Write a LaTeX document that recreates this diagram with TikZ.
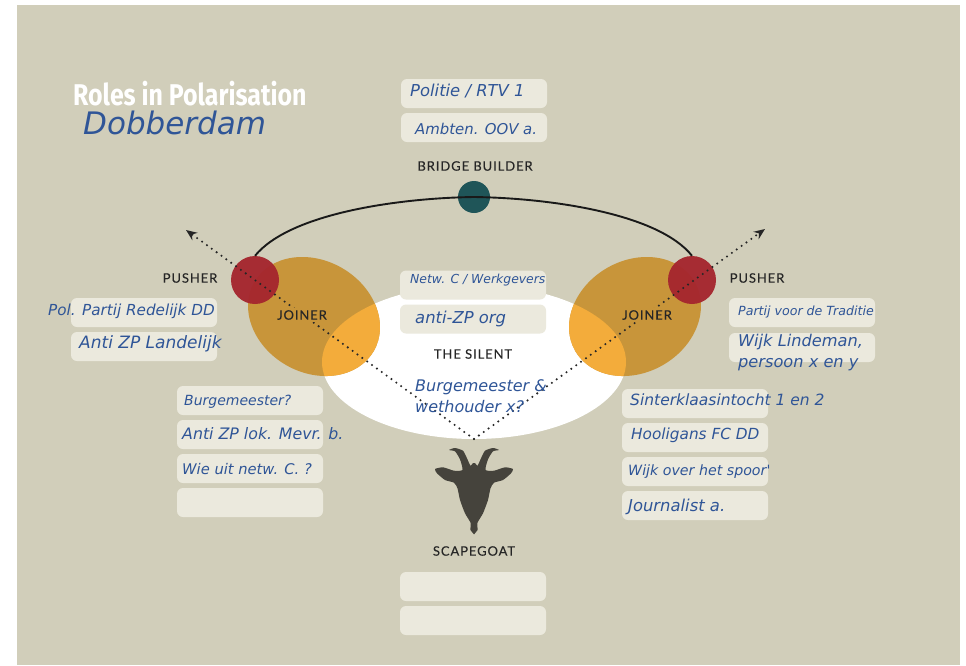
\documentclass[tikz,border=0pt]{standalone}
\usepackage{fontspec}
\usetikzlibrary{arrows.meta}
\newfontfamily\handfont{DejaVu Sans}[ItalicFont={DejaVu Sans Oblique}]
\newfontfamily\rolefont{Lato}[LetterSpace=7,FakeBold=0.25]
\newfontfamily\titlefont{Fira Sans}[FakeStretch=0.83]
\definecolor{backdrop}{HTML}{D1CEBA}
\definecolor{namepaper}{HTML}{EBE9DD}
\definecolor{inkblue}{HTML}{2F5597}
\definecolor{joinerdull}{HTML}{C8953A}
\definecolor{joinerlight}{HTML}{F3AC3B}
\definecolor{pusherred}{HTML}{A5262E}
\definecolor{bridgeteal}{HTML}{1F5558}
\definecolor{goatgrey}{HTML}{45433C}
\tikzset{
  namebox/.style={fill=namepaper,rounded corners=6pt,minimum width=146pt,minimum height=29pt,inner sep=0pt},
  handtext/.style={text=inkblue,anchor=base west,inner sep=0pt,font=\handfont\itshape\fontsize{#1}{#1}\selectfont},
  handblock/.style={text=inkblue,anchor=west,align=left,inner sep=0pt,font=\handfont\itshape\fontsize{#1}{21}\selectfont},
  rolelabel/.style={text=black!85,inner sep=2pt,font=\rolefont\fontsize{13}{14}\selectfont},
  pusharrow/.style={-{Stealth[length=11pt,width=9pt]},line width=2.3pt,line cap=round,dash pattern=on 0pt off 6pt,black!85}
}
\begin{document}
\begin{tikzpicture}[x=1pt,y=-1pt]
\useasboundingbox (0,0) rectangle (966,665);
\fill[backdrop] (17,5) rectangle (960,665);

% silent ellipse and the two joiners
\fill[white] (474,362) ellipse (152 and 77);
\foreach \cx/\tilt in {314/-30,635/30}{
  \fill[joinerdull,rotate around={\tilt:(\cx,316.5)}] (\cx,316.5) ellipse (69 and 56);
  \begin{scope}
    \clip (474,362) ellipse (152 and 77);
    \fill[joinerlight,rotate around={\tilt:(\cx,316.5)}] (\cx,316.5) ellipse (69 and 56);
  \end{scope}
}

% pushers and bridge builder
\node[circle,fill=bridgeteal,minimum size=32pt,inner sep=0pt] (bridge) at (474,197) {};
\node[circle,fill=pusherred,opacity=.96,minimum size=48pt,inner sep=0pt] (pusherleft) at (255,280) {};
\node[circle,fill=pusherred,opacity=.96,minimum size=48pt,inner sep=0pt] (pusherright) at (692,280) {};
\draw[line width=1.9pt,black!90] (pusherleft.north) .. controls (290,213) and (400,198) .. (bridge.center)
  .. controls (548,198) and (658,213) .. (pusherright.north);

% arrows out of the scapegoat
\coordinate (goatpoint) at (474,439);
\coordinate (leftend) at (186,230);
\coordinate (rightend) at (765,229);
\draw[pusharrow] (goatpoint) -- (leftend);
\draw[pusharrow] (goatpoint) -- (rightend);

% goat head
\foreach \s in {1,-1}{
  \begin{scope}[shift={(474,0)},xscale=\s]
    \fill[goatgrey] plot[smooth,tension=.35] coordinates {(0,534) (-3.5,530) (-3.5,522.7) (-9,513.3) (-14,500) (-16.5,488.3) (-20,482.7) (-29,480) (-37,473.3) (-39,469) (-31,467.3) (-20,470.7) (-11.5,470) (-14,459.3) (-19,451.3) (-25,450) (-19,448) (-11,450.7) (-7,458.3) (-3.5,465.7) (0.5,465.7) (0.5,534)};
  \end{scope}
}

% role labels
\node[rolelabel] (bridgelabel) at (475,166) {BRIDGE BUILDER};
\node[rolelabel] (pusherlabelleft) at (190,278) {PUSHER};
\node[rolelabel] (pusherlabelright) at (757,278) {PUSHER};
\node[rolelabel,fill=joinerdull] (joinerlabelleft) at (302,315) {JOINER};
\node[rolelabel,fill=joinerdull] (joinerlabelright) at (647,315) {JOINER};
\node[rolelabel] (silentlabel) at (473,354) {THE SILENT};
\node[rolelabel] (goatlabel) at (474,551) {SCAPEGOAT};

% name boxes
\node[namebox] (politie) at (474,93.5) {};
\node[namebox] (ambten) at (474,127.5) {};
\node[namebox] (netw) at (473,285) {};
\node[namebox] (antizp) at (473,319) {};
\node[namebox] (partij) at (802,312.5) {};
\node[namebox] (wijklindeman) at (802,347.5) {};
\node[namebox] (sinterklaas) at (695,403.5) {};
\node[namebox] (hooligans) at (695,437.5) {};
\node[namebox] (wijkspoor) at (695,471.5) {};
\node[namebox] (journalist) at (695,505.5) {};
\node[namebox] (redelijk) at (144,312.5) {};
\node[namebox] (landelijk) at (144,346.5) {};
\node[namebox] (burgemeester) at (250,400.5) {};
\node[namebox] (mevr) at (250,434.5) {};
\node[namebox] (wieuit) at (250,468.5) {};
\node[namebox] (joinerempty) at (250,502.5) {};
\node[namebox] (goatone) at (473,586.5) {};
\node[namebox] (goattwo) at (473,620.5) {};

% title
\node[text=white,anchor=base west,inner sep=0pt,font=\titlefont\bfseries\fontsize{30}{30}\selectfont] (title) at (73,105) {Roles in Polarisation};
\node[handtext=31] (place) at (83,134) {Dobberdam};

% names in the boxes
\node[handtext=16.4] (tpolitie) at (410,96) {Politie / RTV 1};
\node[handtext=14.9] (tambten) at (415,134) {Ambten. OOV a.};
\node[handtext=12.4] (tnetw) at (410,283) {Netw. C / Werkgevers};
\node[handtext=16.4] (tantizp) at (415,323) {anti-ZP org};
\node[handtext=12.6] (tpartij) at (738,315) {Partij voor de Traditie};
\node[handblock=16.2] (twijklindeman) at (738,353) {Wijk Lindeman,\\persoon x en y};
\node[handtext=15.5] (tsinterklaas) at (630,405) {Sinterklaasintocht 1 en 2};
\node[handtext=15.3] (thooligans) at (631,439) {Hooligans FC DD};
\node[handtext=14.2] (twijkspoor) at (628,475) {Wijk over het spoor'};
\node[handtext=16.4] (tjournalist) at (628,511) {Journalist a.};
\node[handtext=15.2] (tredelijk) at (48,315) {Pol. Partij Redelijk DD};
\node[handtext=17] (tlandelijk) at (79,348) {Anti ZP Landelijk};
\node[handtext=14] (tburgemeester) at (184,405) {Burgemeester?};
\node[handtext=15.8] (tmevr) at (182,439) {Anti ZP lok. Mevr. b.};
\node[handtext=14.7] (twieuit) at (182,474) {Wie uit netw. C. ?};
\node[handblock=16] (tsilent) at (415,396) {Burgemeester \&\\wethouder x?};
\end{tikzpicture}
\end{document}
